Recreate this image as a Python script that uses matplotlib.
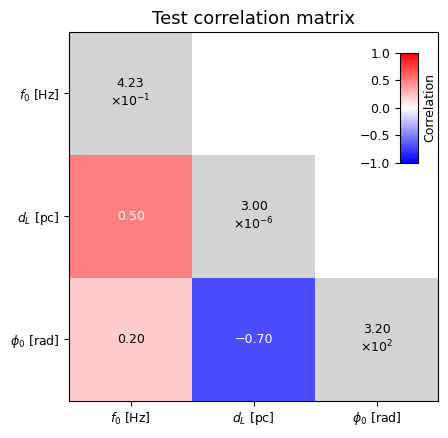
import numpy as np
import matplotlib
matplotlib.use("Agg")
import matplotlib.pyplot as plt
from matplotlib.colors import ListedColormap

labels = [r"$f_0$ [Hz]", r"$d_L$ [pc]", r"$\phi_0$ [rad]"]
diag_mantissa = ["4.23", "3.00", "3.20"]
diag_exponent = [-1, -6, 2]
# lower-triangle correlations: (row, col, value)
corr_pairs = [(1, 0, 0.50), (2, 0, 0.20), (2, 1, -0.70)]

n = len(labels)
corr = np.full((n, n), np.nan)
for i, j, v in corr_pairs:
    corr[i, j] = v
diag = np.where(np.eye(n) == 1, 1.0, np.nan)

fig, ax = plt.subplots(figsize=(4.48, 4.38), dpi=100)
fig.subplots_adjust(left=0.154, right=0.978, top=0.927, bottom=0.085)

im = ax.imshow(np.ma.masked_invalid(corr), cmap="bwr", vmin=-1, vmax=1)
ax.imshow(np.ma.masked_invalid(diag), cmap=ListedColormap(["lightgray"]), vmin=0, vmax=1)

for i, j, v in corr_pairs:
    col = "white" if abs(v) > 0.4 else "black"
    ax.text(j, i, f"{v:.2f}".replace("-", "\u2212"), ha="center", va="center",
            color=col, fontsize=9)
for k in range(n):
    ax.text(k, k, f"{diag_mantissa[k]}\n" + r"$\times10^{%d}$" % diag_exponent[k],
            ha="center", va="center", fontsize=9)

ax.set_xticks(range(n))
ax.set_yticks(range(n))
ax.set_xticklabels(labels, fontsize=9)
ax.set_yticklabels(labels, fontsize=9)
ax.set_title("Test correlation matrix", fontsize=13)

cax = ax.inset_axes([0.897, 0.645, 0.049, 0.298])
cbar = fig.colorbar(im, cax=cax)
cbar.set_ticks([-1.0, -0.5, 0.0, 0.5, 1.0])
cax.yaxis.set_ticks_position("left")
cax.yaxis.set_label_position("right")
cbar.set_label("Correlation", fontsize=9)
cax.tick_params(labelsize=9)

fig.savefig("out.png", dpi=100)
